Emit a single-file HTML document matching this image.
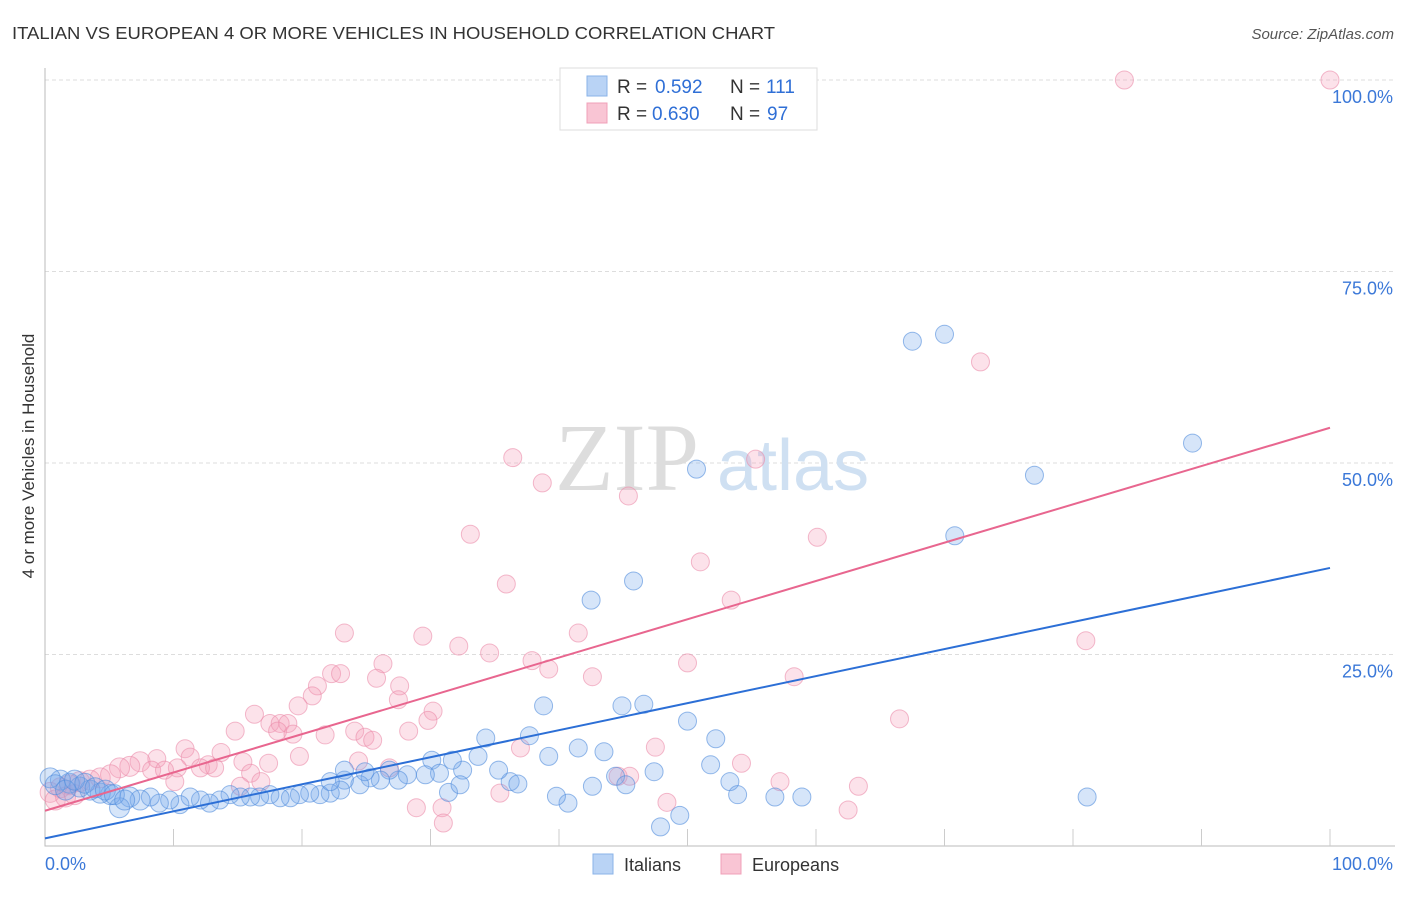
<!DOCTYPE html>
<html><head><meta charset="utf-8"><style>
body{margin:0;background:#fff;font-family:"Liberation Sans",sans-serif;}
</style></head><body>
<svg width="1406" height="892" xmlns="http://www.w3.org/2000/svg">
<text x="12" y="39" font-size="17.5" fill="#333" textLength="763" lengthAdjust="spacingAndGlyphs">ITALIAN VS EUROPEAN 4 OR MORE VEHICLES IN HOUSEHOLD CORRELATION CHART</text>
<text x="1394" y="39" font-size="15" fill="#555" font-style="italic" text-anchor="end">Source: ZipAtlas.com</text>
<g id="grid"></g>
<text x="555" y="490" font-size="96" font-family="Liberation Serif,serif" fill="#ddd">ZIP</text>
<text x="717" y="490" font-size="72" fill="#cfe0f2">atlas</text>
<g id="marks"></g>
<text transform="translate(34,456) rotate(-90)" font-size="17" fill="#333" text-anchor="middle">4 or more Vehicles in Household</text>
<g>
<rect x="560" y="68" width="257" height="62" fill="#fff" stroke="#ddd"/>
<rect x="587" y="76" width="20" height="20" fill="#b9d3f5" stroke="#8ab3e8"/>
<rect x="587" y="103" width="20" height="20" fill="#f9c5d4" stroke="#f0a0b8"/>
<text x="617" y="93" font-size="19" fill="#333">R =</text>
<text x="655" y="93" font-size="19" fill="#2f6fd6">0.592</text>
<text x="730" y="93" font-size="19" fill="#333">N =</text>
<text x="766" y="93" font-size="19" fill="#2f6fd6">111</text>
<text x="617" y="120" font-size="19" fill="#333">R =</text>
<text x="652" y="120" font-size="19" fill="#2f6fd6">0.630</text>
<text x="730" y="120" font-size="19" fill="#333">N =</text>
<text x="767" y="120" font-size="19" fill="#2f6fd6">97</text>
</g>
<g>
<rect x="593" y="854" width="20" height="20" fill="#b9d3f5" stroke="#8ab3e8"/>
<text x="624" y="871" font-size="18" fill="#333">Italians</text>
<rect x="721" y="854" width="20" height="20" fill="#f9c5d4" stroke="#f0a0b8"/>
<text x="752" y="871" font-size="18" fill="#333">Europeans</text>
</g>
</svg>
<script>
const yTicks=[25,50,75,100];
const yTickLabels=["25.0%","50.0%","75.0%","100.0%"];
const xTickLabels=["0.0%","100.0%"];
const italiansX=[50.7,67.5,70.0,89.3,77.0,70.8,42.5,45.8,38.8,44.9,46.6,50.0,52.2,37.7,34.3,43.5,41.5,39.2,51.8,47.4,53.3,53.9,56.8,58.9,81.1,47.9,49.4,40.7,39.8,42.6,44.4,45.2,36.2,36.8,35.3,33.7,32.5,31.7,30.1,30.7,31.4,32.3,29.6,28.2,27.5,26.8,26.1,25.3,24.5,23.3,23.0,22.2,21.4,20.6,19.8,19.1,18.3,17.5,16.7,16.0,15.2,14.4,13.6,12.8,12.1,11.3,10.5,9.7,8.9,8.2,7.4,6.6,5.8,5.1,4.3,3.5,2.7,1.9,1.2,0.4,0.8,1.6,2.3,3.1,3.9,4.7,5.4,6.2,22.2,23.3,24.9];
const italiansY=[49.2,65.9,66.8,52.6,48.4,40.5,32.1,34.6,18.3,18.3,18.5,16.3,14.0,14.4,14.1,12.3,12.8,11.7,10.6,9.7,8.4,6.7,6.4,6.4,6.4,2.5,4.0,5.6,6.5,7.8,9.1,8.0,8.4,8.1,9.9,11.7,9.9,11.2,11.2,9.5,7.0,8.0,9.3,9.3,8.6,9.9,8.6,8.9,8.0,8.6,7.3,6.9,6.7,6.9,6.7,6.3,6.3,6.7,6.4,6.4,6.4,6.7,6.0,5.6,6.0,6.4,5.4,6.0,5.6,6.4,6.0,6.4,5.0,6.7,6.9,7.3,7.7,8.2,8.6,8.9,8.0,7.3,8.6,8.2,7.6,7.3,6.7,6.0,8.4,9.9,9.7];
const europeansX=[84.0,100,72.8,36.4,55.3,38.7,45.4,33.1,60.1,51.0,35.9,53.4,23.3,41.5,29.4,32.2,81.0,34.6,37.9,50.0,26.3,39.2,22.3,23.0,25.8,42.6,58.3,21.2,27.6,20.8,19.7,27.5,30.2,16.3,66.5,29.8,17.5,18.3,18.9,14.8,18.1,19.3,21.8,24.1,24.9,25.5,28.3,19.8,10.9,13.7,37.0,47.5,11.3,15.4,17.4,12.7,24.4,54.2,26.8,10.3,12.1,13.2,8.7,7.4,6.6,5.8,8.3,9.3,16.0,16.8,10.1,4.3,5.1,3.5,2.7,1.9,1.2,0.4,0.8,1.6,2.3,44.6,45.5,57.2,63.3,35.4,28.9,30.9,31.0,48.4,62.5,15.2];
const europeansY=[100,100,63.2,50.7,50.5,47.4,45.7,40.7,40.3,37.1,34.2,32.1,27.8,27.8,27.4,26.1,26.8,25.2,24.2,23.9,23.8,23.1,22.5,22.5,21.9,22.1,22.1,20.9,20.9,19.6,18.3,19.1,17.6,17.2,16.6,16.4,16.0,16.0,16.0,15.0,15.0,14.6,14.5,15.0,14.2,13.8,15.0,11.7,12.7,12.2,12.8,12.9,11.6,11.0,10.8,10.6,11.1,10.8,10.2,10.2,10.2,10.2,11.4,11.0,10.4,10.2,9.9,9.9,9.5,8.4,8.4,8.9,9.3,8.6,8.4,8.0,7.6,7.0,6.0,6.4,6.7,9.1,9.1,8.4,7.8,6.9,5.0,5.0,3.0,5.7,4.7,7.8];
const italiansTrend=[1.0,36.3];
const europeansTrend=[4.6,54.6];
const NS="http://www.w3.org/2000/svg";
const X=v=>45+v*12.85, Y=v=>846-v*7.66;
function mk(tag,attrs,parent){const e=document.createElementNS(NS,tag);for(const k in attrs)e.setAttribute(k,attrs[k]);parent.appendChild(e);return e;}
const grid=document.getElementById('grid'), marks=document.getElementById('marks');
yTicks.forEach((t,i)=>{
 const l=mk('line',{x1:45,x2:1395,y1:Y(t),y2:Y(t),stroke:'#ddd','stroke-dasharray':'4,3'},grid);
 
 
 const tx=mk('text',{x:1393,y:Y(t)+23,'font-size':18,fill:'#3b78d8','text-anchor':'end'},grid);
 tx.textContent=yTickLabels[i];
 
 
});
const ax=mk('path',{d:'M45,68V846H1395',fill:'none',stroke:'#bbb'},grid);


for(let i=1;i<=10;i++){const t=mk('line',{x1:X(i*10),x2:X(i*10),y1:829,y2:846,stroke:'#ccc'},grid);
 
 }
[[0,'start',45],[100,'end',1393]].forEach((d,i)=>{const t=mk('text',{x:d[2],y:870,'font-size':18,fill:'#3b78d8','text-anchor':d[1]},grid);t.textContent=xTickLabels[i];
 
 });
function pts(xs,ys,fill,stroke,name){xs.forEach((x,i)=>{const c=mk('circle',{cx:X(x),cy:Y(ys[i]),r:x<8?10:9,fill:fill,stroke:stroke,'stroke-width':1},marks);
 
 });}
pts(europeansX,europeansY,'rgba(245,160,185,0.3)','rgba(235,140,170,0.6)','european-point');
pts(italiansX,italiansY,'rgba(120,170,235,0.3)','rgba(80,140,220,0.6)','italian-point');
const l1=mk('line',{x1:X(0),y1:Y(europeansTrend[0]),x2:X(100),y2:Y(europeansTrend[1]),stroke:'#e8668f','stroke-width':2},marks);


const l2=mk('line',{x1:X(0),y1:Y(italiansTrend[0]),x2:X(100),y2:Y(italiansTrend[1]),stroke:'#2c6fd6','stroke-width':2},marks);


</script>
</body></html>
